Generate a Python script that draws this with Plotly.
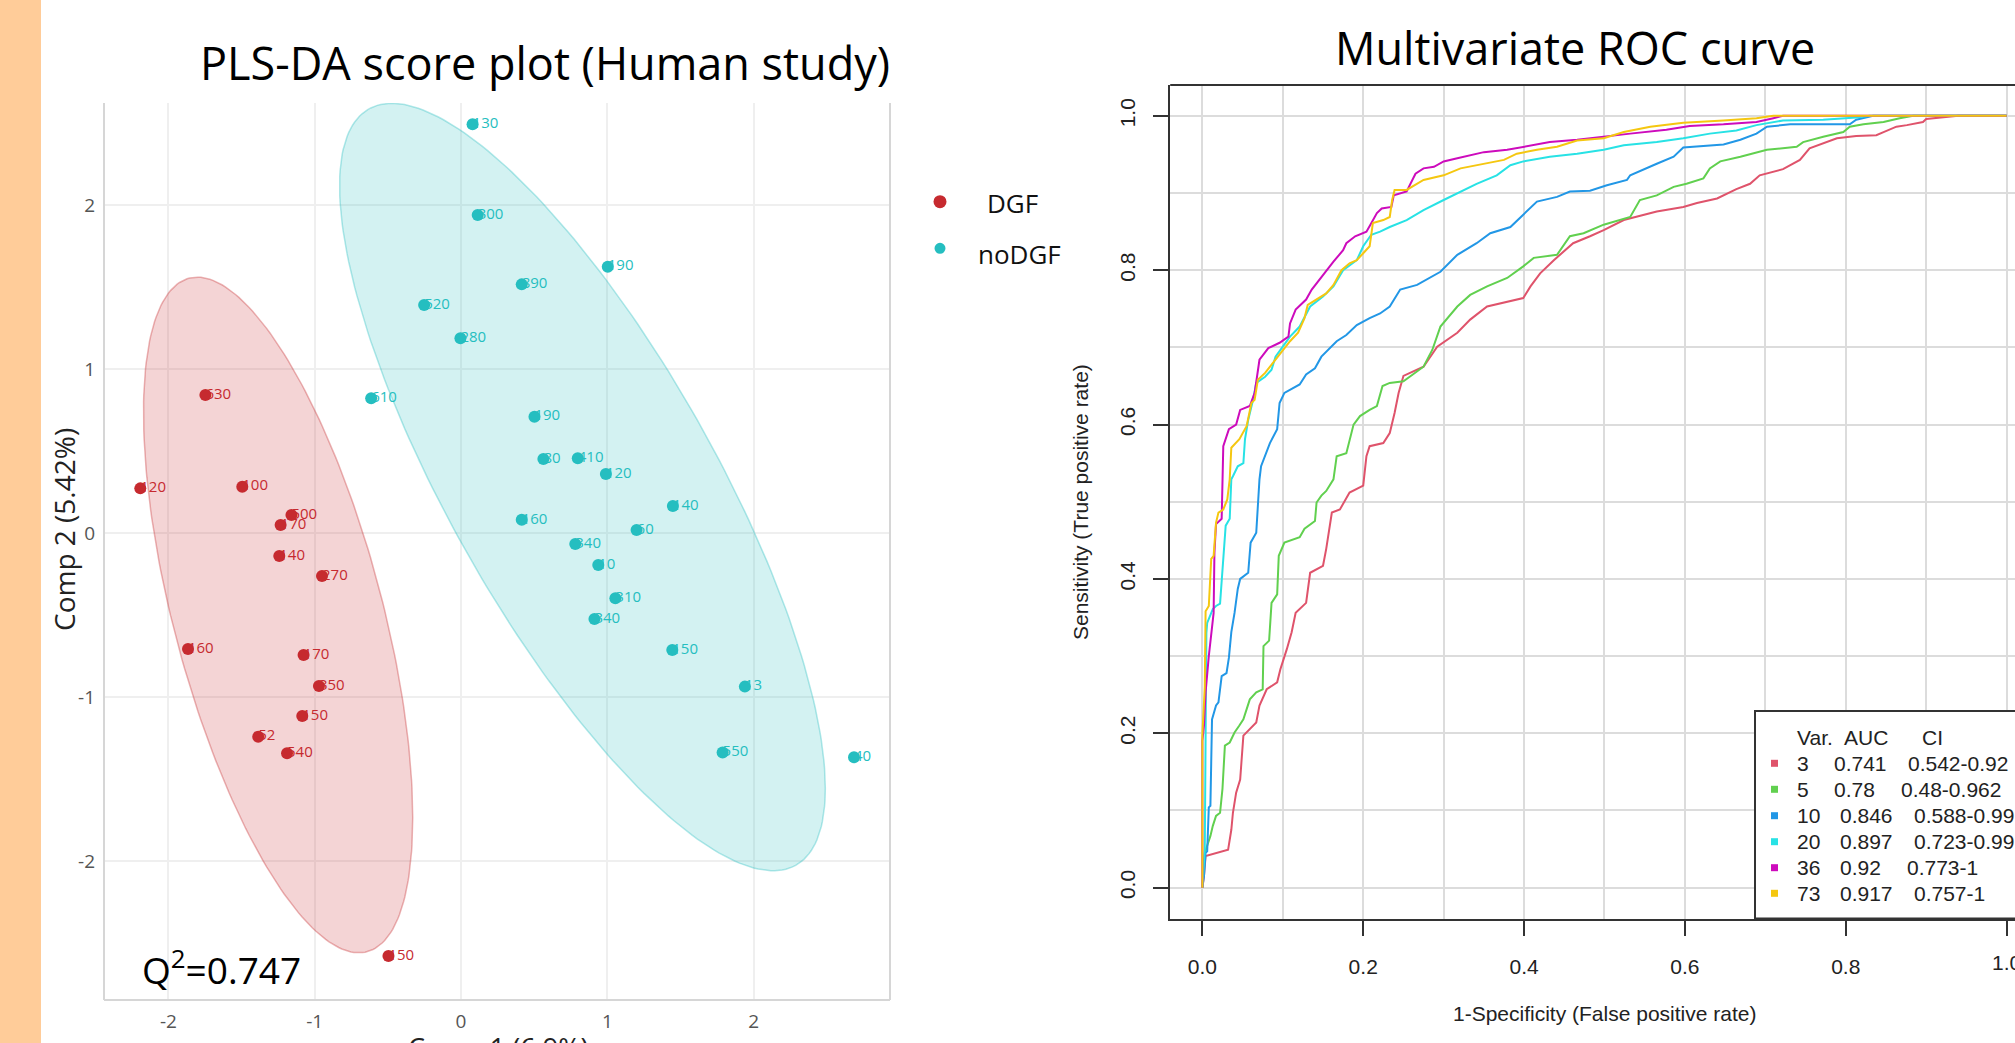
import numpy as np
import plotly.graph_objects as go

W, H = 2015, 1043

# ---------------- PLS-DA score plot data ----------------
dgf_comp1 = [-1.747, -2.192, -1.495, -1.159, -1.233, -1.242, -0.950, -1.866, -1.076, -0.971, -1.085, -1.386, -1.189, -0.496]
dgf_comp2 = [0.841, 0.272, 0.282, 0.110, 0.049, -0.140, -0.262, -0.707, -0.744, -0.933, -1.116, -1.242, -1.343, -2.579]
dgf_labels = ["630", "120", "100", "500", "170", "140", "270", "160", "170", "350", "150", "52", "540", "150"]

nodgf_comp1 = [0.079, 0.114, 1.003, 0.415, -0.252, -0.004, -0.614, 0.502, 0.563, 0.798, 0.990, 1.448, 0.415,
               1.200, 0.781, 0.938, 1.055, 0.912, 1.444, 1.940, 1.788, 2.686]
nodgf_comp2 = [2.492, 1.939, 1.624, 1.516, 1.390, 1.187, 0.821, 0.709, 0.451, 0.455, 0.360, 0.165, 0.080,
               0.018, -0.067, -0.195, -0.398, -0.524, -0.713, -0.937, -1.339, -1.368]
nodgf_labels = ["130", "300", "190", "890", "520", "280", "610", "190", "80", "410", "120", "140", "160",
                "60", "340", "10", "310", "340", "150", "13", "550", "40"]

# confidence ellipses: centre, half extents along the axes, correlation
dgf_ellipse = dict(cx=-1.25, cy=-0.50, sx=0.92, sy=2.06, rho=-0.60)
nodgf_ellipse = dict(cx=0.83, cy=0.28, sx=1.66, sy=2.34, rho=-0.785)
q2_text = "0.747"
comp_ticks = [-2, -1, 0, 1, 2]

# ---------------- Multivariate ROC data ----------------
roc_vars = ["3", "5", "10", "20", "36", "73"]
roc_auc = ["0.741", "0.78", "0.846", "0.897", "0.92", "0.917"]
roc_ci = ["0.542-0.92", "0.48-0.962", "0.588-0.99", "0.723-0.99", "0.773-1", "0.757-1"]
roc_colors = ["#DF536B", "#61D04F", "#2297E6", "#28E2E5", "#CD0BBC", "#F5C710"]

fpr_3 = [0.000, 0.002, 0.004, 0.032, 0.036, 0.038, 0.042, 0.047, 0.051, 0.067, 0.071, 0.080, 0.093, 0.097, 0.105, 0.111, 0.116, 0.129, 0.134, 0.150, 0.154, 0.161, 0.171, 0.183, 0.200, 0.204, 0.208, 0.225, 0.233, 0.239, 0.244, 0.250, 0.275, 0.292, 0.317, 0.333, 0.354, 0.399, 0.408, 0.420, 0.437, 0.461, 0.482, 0.499, 0.524, 0.565, 0.598, 0.615, 0.640, 0.664, 0.681, 0.693, 0.722, 0.743, 0.755, 0.772, 0.789, 0.813, 0.838, 0.847, 0.863, 0.876, 0.896, 0.900, 0.925, 0.940, 1.000]
tpr_3 = [0.000, 0.015, 0.041, 0.049, 0.075, 0.097, 0.123, 0.140, 0.197, 0.214, 0.236, 0.257, 0.266, 0.283, 0.309, 0.331, 0.356, 0.369, 0.408, 0.417, 0.439, 0.486, 0.490, 0.512, 0.521, 0.559, 0.572, 0.576, 0.589, 0.615, 0.641, 0.663, 0.675, 0.701, 0.719, 0.736, 0.753, 0.764, 0.779, 0.796, 0.813, 0.835, 0.844, 0.852, 0.865, 0.876, 0.882, 0.887, 0.893, 0.905, 0.912, 0.923, 0.931, 0.943, 0.958, 0.964, 0.971, 0.974, 0.975, 0.979, 0.986, 0.988, 0.992, 0.996, 0.998, 1.000, 1.000]

fpr_5 = [0.000, 0.003, 0.010, 0.013, 0.017, 0.022, 0.025, 0.028, 0.034, 0.040, 0.046, 0.051, 0.059, 0.067, 0.075, 0.076, 0.083, 0.086, 0.093, 0.095, 0.102, 0.121, 0.127, 0.140, 0.142, 0.148, 0.154, 0.163, 0.167, 0.179, 0.188, 0.196, 0.208, 0.217, 0.224, 0.233, 0.250, 0.275, 0.286, 0.296, 0.317, 0.333, 0.354, 0.379, 0.399, 0.412, 0.441, 0.457, 0.474, 0.499, 0.532, 0.544, 0.565, 0.586, 0.602, 0.623, 0.631, 0.644, 0.669, 0.702, 0.739, 0.747, 0.772, 0.797, 0.805, 0.822, 0.847, 0.867, 0.884, 1.000]
tpr_5 = [0.000, 0.045, 0.067, 0.080, 0.093, 0.097, 0.128, 0.184, 0.188, 0.201, 0.210, 0.218, 0.244, 0.253, 0.257, 0.313, 0.320, 0.369, 0.380, 0.430, 0.447, 0.454, 0.465, 0.475, 0.499, 0.508, 0.514, 0.529, 0.559, 0.563, 0.600, 0.611, 0.619, 0.624, 0.650, 0.654, 0.656, 0.675, 0.697, 0.727, 0.753, 0.768, 0.779, 0.790, 0.805, 0.816, 0.820, 0.844, 0.848, 0.859, 0.869, 0.891, 0.897, 0.908, 0.912, 0.919, 0.932, 0.941, 0.947, 0.956, 0.960, 0.966, 0.973, 0.979, 0.986, 0.989, 0.992, 0.997, 1.000, 1.000]

fpr_10 = [0.000, 0.002, 0.004, 0.006, 0.008, 0.010, 0.012, 0.017, 0.020, 0.024, 0.030, 0.033, 0.036, 0.040, 0.044, 0.047, 0.057, 0.060, 0.067, 0.069, 0.071, 0.073, 0.078, 0.084, 0.093, 0.096, 0.102, 0.121, 0.129, 0.140, 0.148, 0.158, 0.167, 0.179, 0.192, 0.208, 0.221, 0.233, 0.246, 0.267, 0.296, 0.317, 0.341, 0.358, 0.383, 0.399, 0.416, 0.441, 0.457, 0.482, 0.503, 0.528, 0.532, 0.565, 0.586, 0.598, 0.627, 0.648, 0.669, 0.689, 0.702, 0.731, 0.805, 0.813, 0.834, 1.000]
tpr_10 = [0.000, 0.015, 0.045, 0.047, 0.104, 0.106, 0.218, 0.236, 0.240, 0.274, 0.278, 0.298, 0.331, 0.356, 0.387, 0.400, 0.408, 0.447, 0.460, 0.499, 0.529, 0.546, 0.559, 0.576, 0.594, 0.628, 0.641, 0.652, 0.665, 0.673, 0.688, 0.699, 0.708, 0.716, 0.729, 0.738, 0.744, 0.753, 0.775, 0.781, 0.798, 0.820, 0.835, 0.848, 0.856, 0.872, 0.889, 0.895, 0.902, 0.903, 0.910, 0.917, 0.923, 0.938, 0.947, 0.959, 0.961, 0.963, 0.969, 0.977, 0.986, 0.989, 0.989, 0.995, 1.000, 1.000]

fpr_20 = [0.000, 0.003, 0.005, 0.006, 0.013, 0.017, 0.022, 0.024, 0.027, 0.029, 0.034, 0.036, 0.038, 0.044, 0.051, 0.053, 0.057, 0.063, 0.067, 0.078, 0.086, 0.091, 0.100, 0.109, 0.121, 0.134, 0.150, 0.163, 0.175, 0.192, 0.200, 0.210, 0.221, 0.233, 0.254, 0.275, 0.300, 0.317, 0.341, 0.366, 0.383, 0.399, 0.432, 0.466, 0.499, 0.524, 0.565, 0.598, 0.631, 0.664, 0.689, 0.722, 0.772, 0.813, 0.830, 1.000]
tpr_20 = [0.000, 0.050, 0.330, 0.343, 0.361, 0.365, 0.368, 0.395, 0.434, 0.469, 0.478, 0.529, 0.533, 0.546, 0.550, 0.581, 0.606, 0.632, 0.654, 0.662, 0.671, 0.688, 0.701, 0.714, 0.727, 0.753, 0.766, 0.779, 0.800, 0.813, 0.831, 0.846, 0.850, 0.856, 0.865, 0.878, 0.891, 0.900, 0.912, 0.923, 0.936, 0.941, 0.947, 0.951, 0.956, 0.962, 0.966, 0.971, 0.977, 0.981, 0.988, 0.994, 0.995, 0.998, 1.000, 1.000]

fpr_36 = [0.000, 0.000, 0.002, 0.004, 0.008, 0.014, 0.015, 0.017, 0.024, 0.026, 0.033, 0.042, 0.047, 0.059, 0.065, 0.071, 0.082, 0.096, 0.107, 0.109, 0.116, 0.129, 0.136, 0.142, 0.154, 0.163, 0.175, 0.179, 0.190, 0.204, 0.210, 0.217, 0.223, 0.235, 0.238, 0.254, 0.265, 0.275, 0.288, 0.300, 0.317, 0.350, 0.379, 0.399, 0.432, 0.466, 0.503, 0.532, 0.577, 0.606, 0.648, 0.689, 0.710, 0.722, 1.000]
tpr_36 = [0.000, 0.190, 0.210, 0.253, 0.300, 0.356, 0.434, 0.471, 0.478, 0.572, 0.594, 0.600, 0.619, 0.624, 0.641, 0.684, 0.699, 0.706, 0.714, 0.731, 0.749, 0.762, 0.775, 0.783, 0.800, 0.811, 0.826, 0.835, 0.844, 0.850, 0.861, 0.874, 0.880, 0.882, 0.897, 0.902, 0.925, 0.932, 0.934, 0.941, 0.945, 0.953, 0.956, 0.960, 0.966, 0.969, 0.973, 0.977, 0.982, 0.987, 0.989, 0.992, 0.997, 1.000, 1.000]

fpr_73 = [0.000, 0.000, 0.003, 0.004, 0.008, 0.011, 0.014, 0.017, 0.020, 0.026, 0.031, 0.034, 0.036, 0.046, 0.055, 0.061, 0.065, 0.069, 0.078, 0.088, 0.098, 0.109, 0.119, 0.127, 0.131, 0.142, 0.154, 0.163, 0.173, 0.183, 0.192, 0.200, 0.208, 0.212, 0.225, 0.233, 0.236, 0.239, 0.254, 0.275, 0.300, 0.321, 0.341, 0.375, 0.391, 0.416, 0.441, 0.466, 0.499, 0.524, 0.557, 0.598, 0.648, 0.689, 0.710, 1.000]
tpr_73 = [0.000, 0.198, 0.260, 0.358, 0.365, 0.426, 0.430, 0.473, 0.486, 0.490, 0.503, 0.529, 0.570, 0.581, 0.598, 0.628, 0.632, 0.658, 0.667, 0.680, 0.693, 0.708, 0.719, 0.738, 0.755, 0.762, 0.770, 0.781, 0.800, 0.809, 0.813, 0.822, 0.831, 0.861, 0.865, 0.869, 0.891, 0.904, 0.904, 0.917, 0.923, 0.932, 0.936, 0.943, 0.951, 0.956, 0.960, 0.968, 0.971, 0.979, 0.986, 0.991, 0.994, 0.997, 1.000, 1.000]

roc_fpr = [fpr_3, fpr_5, fpr_10, fpr_20, fpr_36, fpr_73]
roc_tpr = [tpr_3, tpr_5, tpr_10, tpr_20, tpr_36, tpr_73]

# ---------------- styling ----------------
FL = "Open Sans"
FR = "Liberation Sans, Arial, sans-serif"
RED = "#C62A2F"
CYAN = "#25BEC0"


def px(x):
    return x / W


def py(y):
    return 1 - y / H


def ellipse(p, n=240):
    t = np.linspace(0, 2 * np.pi, n)
    ex = p["cx"] + p["sx"] * np.cos(t)
    ey = p["cy"] + p["sy"] * (p["rho"] * np.cos(t) + np.sqrt(1 - p["rho"] ** 2) * np.sin(t))
    return ex, ey


fig = go.Figure()

# ellipses
for p, col, fillc in [(dgf_ellipse, "rgba(198,42,47,0.35)", "rgba(198,42,47,0.20)"),
                      (nodgf_ellipse, "rgba(37,190,192,0.35)", "rgba(37,190,192,0.20)")]:
    ex, ey = ellipse(p)
    fig.add_trace(go.Scatter(x=ex, y=ey, mode="lines", fill="toself", fillcolor=fillc,
                             line=dict(color=col, width=1.5), hoverinfo="skip",
                             xaxis="x", yaxis="y"))

# point labels then points on top
for xs, ys, labs, col in [(dgf_comp1, dgf_comp2, dgf_labels, RED),
                          (nodgf_comp1, nodgf_comp2, nodgf_labels, CYAN)]:
    fig.add_trace(go.Scatter(x=xs, y=ys, mode="text", text=labs, textposition="middle right",
                             textfont=dict(family=FL, size=15, color=col), hoverinfo="skip",
                             xaxis="x", yaxis="y"))
    fig.add_trace(go.Scatter(x=xs, y=ys, mode="markers", marker=dict(size=12, color=col),
                             xaxis="x", yaxis="y"))

# ROC curves
for f, t, col, v in zip(roc_fpr, roc_tpr, roc_colors, roc_vars):
    fig.add_trace(go.Scatter(x=f, y=t, mode="lines", line=dict(color=col, width=2),
                             name=v, xaxis="x2", yaxis="y2"))

grid_r = "#DCDCDC"
fig.update_layout(
    width=W, height=H, margin=dict(l=0, r=0, t=0, b=0),
    paper_bgcolor="white", plot_bgcolor="rgba(0,0,0,0)", showlegend=False,
    xaxis=dict(domain=[px(104), px(890)], range=[-2.44, 2.932], anchor="y",
               tickmode="array", tickvals=comp_ticks, ticktext=[str(v) for v in comp_ticks],
               showgrid=True, gridcolor="#EFEFEF", gridwidth=1.5, zeroline=False,
               showline=False, ticks="", ticklabelstandoff=8,
               tickfont=dict(family=FL, size=19, color="#555555")),
    yaxis=dict(domain=[py(1000), py(103)], range=[-2.848, 2.622], anchor="x",
               tickmode="array", tickvals=comp_ticks, ticktext=[str(v) for v in comp_ticks],
               showgrid=True, gridcolor="#EFEFEF", gridwidth=1.5, zeroline=False,
               showline=False, ticks="", ticklabelstandoff=8,
               tickfont=dict(family=FL, size=19, color="#555555")),
    xaxis2=dict(domain=[px(1170.2), 1.0], range=[-0.04, (W - 1202.6) / 804.0], anchor="y2",
                tickmode="linear", tick0=0, dtick=0.2, tickformat=".1f",
                ticks="outside", ticklen=15, tickwidth=2, tickcolor="#333333",
                showline=True, linecolor="#333333", linewidth=2,
                showgrid=True, gridcolor=grid_r, gridwidth=2,
                minor=dict(tick0=0, dtick=0.1, showgrid=True, gridcolor=grid_r, gridwidth=2, ticks=""),
                zeroline=False, ticklabelstandoff=13,
                tickfont=dict(family=FR, size=21, color="#222222")),
    yaxis2=dict(domain=[py(918.5), py(85)], range=[-0.04, 1.04], anchor="x2",
                tickmode="linear", tick0=0, dtick=0.2, tickformat=".1f", tickangle=-90,
                ticks="outside", ticklen=15, tickwidth=2, tickcolor="#333333",
                showline=True, linecolor="#333333", linewidth=2,
                showgrid=True, gridcolor=grid_r, gridwidth=2,
                minor=dict(tick0=0, dtick=0.1, showgrid=True, gridcolor=grid_r, gridwidth=2, ticks=""),
                zeroline=False, ticklabelstandoff=10,
                tickfont=dict(family=FR, size=21, color="#222222")),
)

shapes = []
# orange strip on the left edge
shapes.append(dict(type="rect", xref="paper", yref="paper", x0=0, x1=px(41), y0=0, y1=1,
                   fillcolor="#FFCC99", line=dict(width=0), layer="below"))
# PLS-DA panel border (left, right, bottom)
bc = "#D6D6D6"
shapes.append(dict(type="line", xref="paper", yref="paper", x0=px(104), x1=px(104), y0=py(103), y1=py(1000),
                   line=dict(color=bc, width=2)))
shapes.append(dict(type="line", xref="paper", yref="paper", x0=px(890), x1=px(890), y0=py(103), y1=py(1000),
                   line=dict(color=bc, width=2)))
shapes.append(dict(type="line", xref="paper", yref="paper", x0=px(104), x1=px(890), y0=py(1000), y1=py(1000),
                   line=dict(color=bc, width=2)))
# ROC box top line
shapes.append(dict(type="line", xref="paper", yref="paper", x0=px(1170.2), x1=1.02, y0=py(85), y1=py(85),
                   line=dict(color="#333333", width=2)))
# ROC legend box
shapes.append(dict(type="rect", xref="paper", yref="paper", x0=px(1755), x1=1.02, y0=py(918.5), y1=py(711),
                   fillcolor="white", line=dict(color="#333333", width=2), layer="above"))

annotations = []
row_y = [763.3, 789.3, 815.7, 841.7, 867.7, 893.3]
for i, (v, a, c, col) in enumerate(zip(roc_vars, roc_auc, roc_ci, roc_colors)):
    yy = row_y[i]
    shapes.append(dict(type="rect", xref="paper", yref="paper", x0=px(1771), x1=px(1778),
                       y0=py(yy + 3.5), y1=py(yy - 3.5), fillcolor=col, line=dict(width=0), layer="above"))
    auc_x = 1831.7 + (6 if len(v) > 1 else 0)
    ci_x = auc_x + (74 if len(a) == 5 else 67.6)
    for txt, xx in [(v, 1795), (a, auc_x), (c, ci_x)]:
        annotations.append(dict(text=txt, x=px(xx), y=py(yy), xref="paper", yref="paper",
                                xanchor="left", yanchor="middle", showarrow=False,
                                font=dict(family=FR, size=21, color="#222222")))
for txt, xx in [("Var.", 1795), ("AUC", 1841.7), ("CI", 1920)]:
    annotations.append(dict(text=txt, x=px(xx), y=py(737.3), xref="paper", yref="paper",
                            xanchor="left", yanchor="middle", showarrow=False,
                            font=dict(family=FR, size=21, color="#222222")))

# last x tick label of the ROC axis, partly past the right edge
annotations.append(dict(text="1.0", x=1.0, xref="x2", y=py(962), yref="paper", showarrow=False,
                        xanchor="center", yanchor="middle", font=dict(family=FR, size=21, color="#222222")))

# PLS-DA legend
for (cy_, col, lab, r) in [(201.7, RED, "DGF", 6.5), (248.3, CYAN, "noDGF", 5.5)]:
    shapes.append(dict(type="circle", xref="paper", yref="paper", x0=px(940 - r), x1=px(940 + r),
                       y0=py(cy_ + r), y1=py(cy_ - r), fillcolor=col, line=dict(width=0)))
annotations.append(dict(text="DGF", x=px(1012), y=py(203), xref="paper", yref="paper", showarrow=False,
                        xanchor="center", yanchor="middle", font=dict(family=FL, size=26, color="#111111")))
annotations.append(dict(text="noDGF", x=px(1019), y=py(254), xref="paper", yref="paper", showarrow=False,
                        xanchor="center", yanchor="middle", font=dict(family=FL, size=26, color="#111111")))

# titles and axis titles
annotations.append(dict(text="PLS-DA score plot (Human study)", x=px(545), y=py(62), xref="paper", yref="paper",
                        showarrow=False, xanchor="center", yanchor="middle",
                        font=dict(family=FL, size=45, color="#000000")))
annotations.append(dict(text="Multivariate ROC curve", x=px(1575), y=py(47), xref="paper", yref="paper",
                        showarrow=False, xanchor="center", yanchor="middle",
                        font=dict(family=FL, size=45, color="#000000")))
annotations.append(dict(text="Comp 2 (5.42%)", x=px(64), y=py(530), xref="paper", yref="paper",
                        showarrow=False, xanchor="center", yanchor="middle", textangle=-90,
                        font=dict(family=FL, size=28, color="#222222")))
annotations.append(dict(text="Comp 1 (6.9%)", x=px(498), y=py(1047), xref="paper", yref="paper",
                        showarrow=False, xanchor="center", yanchor="middle",
                        font=dict(family=FL, size=27, color="#222222")))
annotations.append(dict(text="Q<sup>2</sup>=" + q2_text, x=px(140), y=py(967), xref="paper", yref="paper",
                        showarrow=False, xanchor="left", yanchor="middle",
                        font=dict(family=FL, size=37, color="#000000")))
annotations.append(dict(text="Sensitivity (True positive rate)", x=px(1081), y=py(502), xref="paper",
                        yref="paper", showarrow=False, xanchor="center", yanchor="middle", textangle=-90,
                        font=dict(family=FR, size=21, color="#222222")))
annotations.append(dict(text="1-Specificity (False positive rate)", x=px(1604), y=py(1013), xref="paper",
                        yref="paper", showarrow=False, xanchor="center", yanchor="middle",
                        font=dict(family=FR, size=21, color="#222222")))

fig.update_layout(shapes=shapes, annotations=annotations)
fig.write_html("out.html")
